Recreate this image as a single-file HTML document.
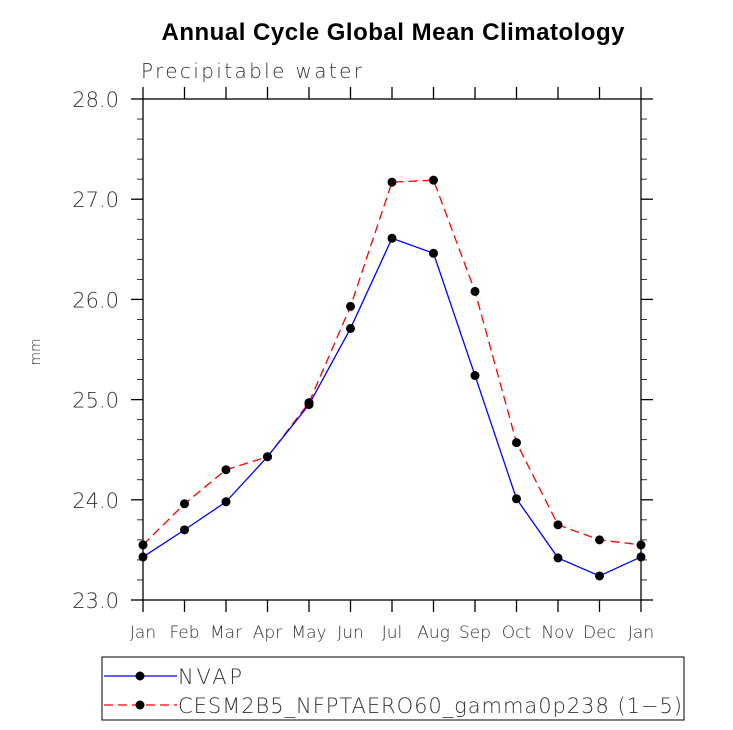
<!DOCTYPE html>
<html><head><meta charset="utf-8"><style>
body{margin:0;background:#fff}
svg{display:block;font-family:"Liberation Sans","DejaVu Sans",sans-serif}
.thin{font-family:"DejaVu Sans",sans-serif;font-weight:200}
</style></head><body>
<svg id="c" width="733" height="730">
<text x="393" y="40" text-anchor="middle" font-size="24" font-weight="bold" textLength="463">Annual Cycle Global Mean Climatology</text>
<text x="141" y="78" font-size="20" fill="#333" class="thin" textLength="221">Precipitable water</text>
<text x="40" y="352" font-size="14" fill="#333" class="thin" transform="rotate(-90 40 352)" text-anchor="middle">mm</text>
<g id="axes"></g>
<g id="series"></g>
<g>
<rect x="102" y="657" width="582" height="63" fill="none" stroke="#000" stroke-width="1"/>
<g>
<line x1="104" y1="676" x2="177" y2="676" stroke="#0000ff" stroke-width="1.3"/>
<circle cx="140" cy="676" r="4.5" fill="#000"/>
<text x="178" y="684" font-size="21" fill="#333" class="thin" textLength="64">NVAP</text></g>
<g>
<line x1="104" y1="705" x2="177" y2="705" stroke="#ff0000" stroke-width="1.3" stroke-dasharray="9,5"/>
<circle cx="140" cy="705" r="4.5" fill="#000"/>
<text x="178" y="713" font-size="21" fill="#333" class="thin" textLength="504">CESM2B5_NFPTAERO60_gamma0p238 (1−5)</text></g>
</g>
</svg>
<script>
const months=["Jan","Feb","Mar","Apr","May","Jun","Jul","Aug","Sep","Oct","Nov","Dec","Jan"];
const nvap=[23.43,23.70,23.98,24.43,24.95,25.71,26.61,26.46,25.24,24.01,23.42,23.24,23.43];
const cesm=[23.55,23.96,24.30,24.43,24.97,25.93,27.17,27.19,26.08,24.57,23.75,23.60,23.55];
const yTicks=["23.0","24.0","25.0","26.0","27.0","28.0"];
const X0=143,X1=641,Y0=600,Y1=99,ymin=23,ymax=28;
const NS="http://www.w3.org/2000/svg";
const xs=i=>X0+(X1-X0)*i/(months.length-1);
const ys=v=>Y0-(v-ymin)/(ymax-ymin)*(Y0-Y1);
function mk(t,a,p){const e=document.createElementNS(NS,t);for(const k in a)e.setAttribute(k,a[k]);p.appendChild(e);return e;}
const ax=document.getElementById('axes');
const fr=mk('rect',{x:X0,y:Y1,width:X1-X0,height:Y0-Y1,fill:'none',stroke:'#000','stroke-width':1.3},ax);


months.forEach((m,i)=>{const x=xs(i);
mk('line',{x1:x,y1:Y0,x2:x,y2:Y0+12,stroke:'#000','stroke-width':1.3},ax);
mk('line',{x1:x,y1:Y1,x2:x,y2:Y1-12,stroke:'#000','stroke-width':1.3},ax);
const t=mk('text',{x:x,y:638,'text-anchor':'middle','font-size':17,fill:'#333','class':'thin'},ax);t.textContent=m;

});
for(let v=ymin;v<=ymax+1e-9;v+=0.2){const y=ys(v);const maj=Math.abs(v-Math.round(v))<1e-6;const L=maj?12:6;
mk('line',{x1:X0-L,y1:y,x2:X0,y2:y,stroke:'#000','stroke-width':maj?1.3:0.8},ax);
mk('line',{x1:X1,y1:y,x2:X1+L,y2:y,stroke:'#000','stroke-width':maj?1.3:0.8},ax);}
yTicks.forEach(s=>{const t=mk('text',{x:119,y:ys(+s)+8,'text-anchor':'end','font-size':21,fill:'#333','class':'thin'},ax);t.textContent=s;

});
const sg=document.getElementById('series');
function series(d,col,dash,name){
const pl=mk('polyline',{points:d.map((v,i)=>xs(i)+','+ys(v)).join(' '),fill:'none',stroke:col,'stroke-width':1.3,'stroke-dasharray':dash},sg);


d.forEach((v,i)=>{const c=mk('circle',{cx:xs(i),cy:ys(v),r:4.5,fill:'#000'},sg);

});}
series(cesm,'#ff0000','9,5','cesm');
series(nvap,'#0000ff','none','nvap');
</script>
</body></html>
